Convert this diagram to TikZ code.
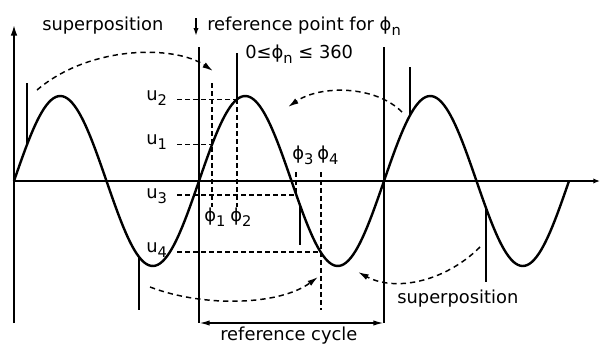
\documentclass[tikz,border=0pt]{standalone}
\usepackage{fontspec}
\setmainfont{DejaVu Sans}
\usetikzlibrary{arrows.meta}
\newcommand{\lowsub}[2]{#1\raisebox{-0.55ex}{\fontsize{11}{12}\selectfont #2}}
\tikzset{
    every node/.style={font=\fontsize{13.4}{15}\selectfont, inner sep=0pt},
    wave/.style={line width=1.8pt},
    spike/.style={line width=1.8pt},
    axis/.style={line width=1.2pt},
    refline/.style={line width=1.4pt},
    helper/.style={dash pattern=on 3.5pt off 2.5pt, line width=1pt},
    sweep/.style={-{Latex[length=8pt, width=4.5pt]}, dash pattern=on 4pt off 3pt, line width=1.1pt},
    label/.style={anchor=base west}
}

\begin{document}
\begin{tikzpicture}[x=0.75pt, y=-0.75pt]
\useasboundingbox (0,0) rectangle (600,343);

\coordinate (O) at (14,181);
\coordinate (yTop) at (14,25);
\coordinate (yBot) at (14,323);
\coordinate (xEnd) at (600,181);
\coordinate (R1top) at (199,47);
\coordinate (R1bot) at (199,323);
\coordinate (R2top) at (384,47);
\coordinate (R2bot) at (384,323);

\draw[axis, -{Latex[length=8pt, width=5pt]}] (yBot) -- (yTop);
\draw[axis, -{Latex[length=5pt, width=4pt]}] (O) -- (xEnd);
\draw[refline] (R1top) -- (R1bot);
\draw[refline] (R2top) -- (R2bot);
\draw[axis, {Latex[length=8pt, width=4pt]}-{Latex[length=8pt, width=4pt]}] (R1bot) -- (R2bot);

\draw[wave] plot[domain=14:569, samples=240, smooth] (\x, {181-85*sin(1.945946*(\x-14))});

\foreach \sx/\sy/\ey in {27/83/144.7, 237/53/99.3, 410/67/115.4, 486/208/282, 300/205/245, 139/257/310}
    \draw[spike] (\sx,\sy) -- (\sx,\ey);

\node[label] (supTop) at (42,30) {superposition};
\node[label] (refPoint) at (207,30) {reference point for \lowsub{ϕ}{n}};
\node[label] (range) at (245,58) {0≤\lowsub{ϕ}{n} ≤ 360};
\node[label] (supBottom) at (397,303) {superposition};
\node[label] (cycle) at (220,340) {reference cycle};
\coordinate (mark) at (196,18);
\coordinate (markEnd) at (196,36);
\draw[line width=1.2pt, -{Latex[length=6pt, width=4pt]}] (mark) -- (markEnd);

\node[label] (u2) at (146,100) {\lowsub{u}{2}};
\node[label] (u1) at (146,144) {\lowsub{u}{1}};
\node[label] (u3) at (146,198) {\lowsub{u}{3}};
\node[label] (u4) at (146,252) {\lowsub{u}{4}};
\node[label] (p1) at (204,221) {\lowsub{ϕ}{1}};
\node[label] (p2) at (230,221) {\lowsub{ϕ}{2}};
\node[label] (p3) at (292,159) {\lowsub{ϕ}{3}};
\node[label] (p4) at (317,159) {\lowsub{ϕ}{4}};

\coordinate (h2a) at (177,99.3);
\coordinate (h2b) at (237,99.3);
\coordinate (h1a) at (177,144.7);
\coordinate (h1b) at (212,144.7);
\coordinate (h3a) at (177,195);
\coordinate (h3b) at (296,195);
\coordinate (h4a) at (177,252);
\coordinate (h4b) at (321,252);
\draw[helper] (h2a) -- (h2b);
\draw[helper] (h1a) -- (h1b);
\draw[helper] (h3a) -- (h3b);
\draw[helper] (h4a) -- (h4b);
\draw[helper] (212,83) -- (212,207);
\draw[helper] (h2b) -- (237,207);
\draw[helper] (296,172) -- (h3b);
\draw[helper] (321,172) -- (321,310);

\draw[sweep] (37,90) .. controls (90,45) and (175,45) .. (213,71);
\draw[sweep] (402,112) .. controls (375,85) and (320,85) .. (288,107);
\draw[sweep] (150,287) .. controls (205,308) and (280,305) .. (318,277);
\draw[sweep] (480,247) .. controls (445,282) and (395,292) .. (358,272);

\end{tikzpicture}
\end{document}
